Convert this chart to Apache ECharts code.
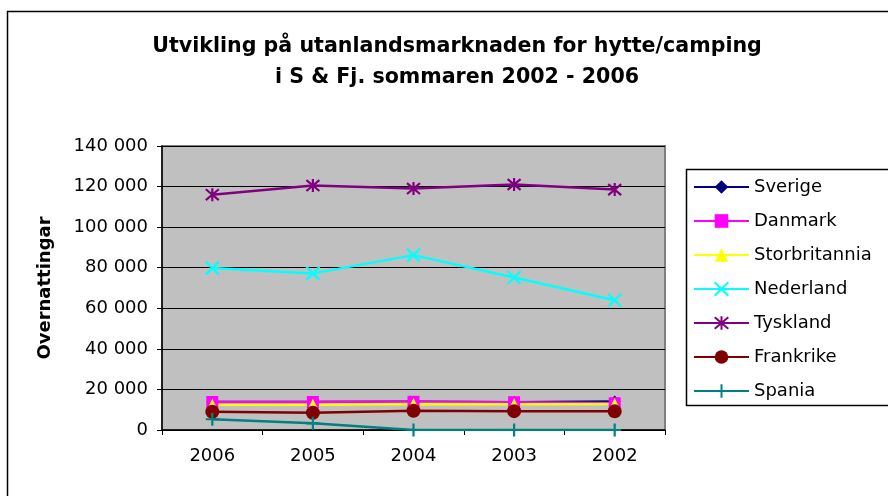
<!DOCTYPE html>
<html>
<head>
<meta charset="utf-8">
<script src="https://cdn.jsdelivr.net/npm/echarts@6/dist/echarts.min.js"></script>
<style>
  html, body { margin: 0; padding: 0; background: #fff; }
  #chart { width: 888px; height: 496px; }
</style>
</head>
<body>
<div id="chart"></div>
<script>
// data
const years = ['2006', '2005', '2004', '2003', '2002'];
const sverige = [13800, 13800, 13900, 13700, 14000];
const danmark = [13800, 13800, 13900, 13700, 13200];
const storbritannia = [12500, 12500, 12800, 12700, 12800];
const nederland = [79800, 77200, 86200, 75200, 64000];
const tyskland = [116000, 120500, 119000, 121000, 118500];
const frankrike = [9000, 8500, 9500, 9300, 9200];
const spania = [5300, 3300, 0, 0, 0];
const yTicks = [0, 20000, 40000, 60000, 80000, 100000, 120000, 140000];

// the reference text is a bit wide, DejaVu matches its extents better
const FONT = '"DejaVu Sans", "Liberation Sans", sans-serif';

// symbols drawn as strokes
const SYM_X = 'path://M0,0L10,10M10,0L0,10';
const SYM_STAR = 'path://M0,0L10,10M10,0L0,10M5,-1L5,11';
const SYM_PLUS = 'path://M5,0L5,10M0,5L10,5';

function mkSeries(name, data, color, symbol, size, stroked) {
    return {
        name: name,
        type: 'line',
        data: data,
        color: color,
        symbol: symbol,
        symbolSize: size,
        showAllSymbol: true,
        lineStyle: { color: color, width: 2.5 },
        itemStyle: stroked
            ? { color: color, borderColor: color, borderWidth: 2.2 }
            : { color: color, borderWidth: 0 },
        emphasis: { disabled: true },
        animation: false
    };
}

const chart = echarts.init(document.getElementById('chart'));

const option = {
    backgroundColor: '#fff',
    animation: false,
    textStyle: { fontFamily: FONT },
    title: {
        text: 'Utvikling på utanlandsmarknaden for hytte/camping\ni S & Fj. sommaren 2002 - 2006',
        left: 452,
        top: 26,
        textAlign: 'center',
        textStyle: {
            fontFamily: FONT,
            fontSize: 20.6,
            fontWeight: 'bold',
            color: '#000',
            lineHeight: 31
        }
    },
    graphic: [
        {
            type: 'rect',
            z: -10,
            shape: { x: 7.5, y: 11.5, width: 900, height: 500 },
            style: { fill: 'none', stroke: '#000', lineWidth: 1.5 }
        },
        {
            type: 'rect',
            z: -5,
            shape: { x: 686.5, y: 169.5, width: 220, height: 236 },
            style: { fill: '#fff', stroke: '#000', lineWidth: 1.5 }
        }
    ],
    legend: {
        orient: 'vertical',
        left: 693,
        top: 177,
        padding: 0,
        itemWidth: 55,
        itemHeight: 17,
        itemGap: 14,
        textStyle: { fontFamily: FONT, fontSize: 18, color: '#000', lineHeight: 20 },
        data: ['Sverige', 'Danmark', 'Storbritannia', 'Nederland', 'Tyskland', 'Frankrike', 'Spania']
    },
    grid: {
        left: 162,
        right: 223,
        top: 146,
        bottom: 66,
        show: true,
        backgroundColor: '#C0C0C0',
        borderColor: '#808080',
        borderWidth: 2
    },
    xAxis: {
        type: 'category',
        data: years,
        boundaryGap: true,
        axisLine: { lineStyle: { color: '#000', width: 1.5 } },
        axisTick: { show: true, length: 5, lineStyle: { color: '#000' } },
        axisLabel: { fontFamily: FONT, fontSize: 18, color: '#000', margin: 17 }
    },
    yAxis: {
        type: 'value',
        min: yTicks[0],
        max: yTicks[yTicks.length - 1],
        interval: yTicks[1] - yTicks[0],
        name: 'Overnattingar',
        nameLocation: 'middle',
        nameGap: 108,
        nameTextStyle: { fontFamily: FONT, fontSize: 18, fontWeight: 'bold', color: '#000' },
        axisLine: { show: true, lineStyle: { color: '#000', width: 1.5 } },
        axisTick: { show: true, length: 5, lineStyle: { color: '#000' } },
        splitLine: { show: true, lineStyle: { color: '#000', width: 1 } },
        axisLabel: {
            fontFamily: FONT,
            fontSize: 18,
            color: '#000',
            margin: 14,
            formatter: v => String(v).replace(/\B(?=(\d{3})+(?!\d))/g, ' ')
        }
    },
    series: [
        mkSeries('Sverige', sverige, '#000080', 'diamond', 12, false),
        mkSeries('Danmark', danmark, '#FF00FF', 'rect', 12, false),
        mkSeries('Storbritannia', storbritannia, '#FFFF00', 'triangle', 12, false),
        mkSeries('Nederland', nederland, '#00FFFF', SYM_X, 13, true),
        mkSeries('Tyskland', tyskland, '#800080', SYM_STAR, 13, true),
        mkSeries('Frankrike', frankrike, '#800000', 'circle', 14, false),
        mkSeries('Spania', spania, '#008080', SYM_PLUS, 13, true)
    ]
};

chart.setOption(option);
</script>
</body>
</html>
